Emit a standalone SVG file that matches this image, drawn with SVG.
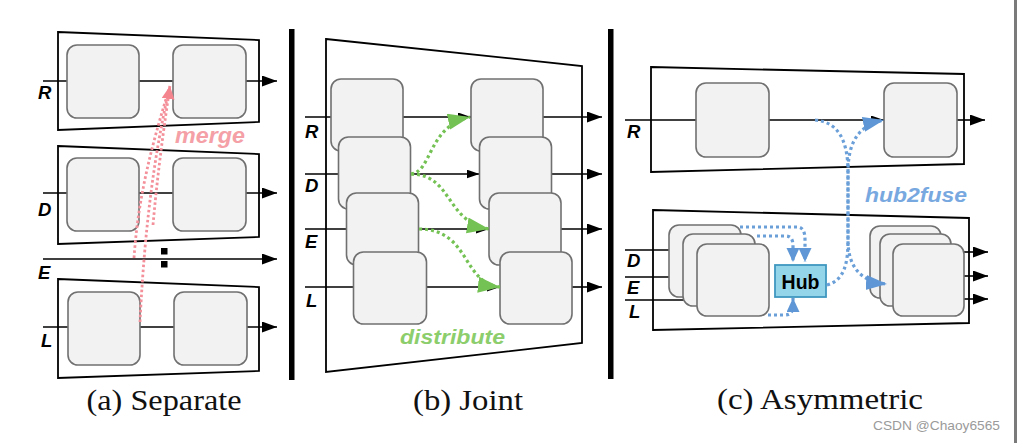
<svg xmlns="http://www.w3.org/2000/svg" width="1017" height="443" viewBox="0 0 1017 443">
<style>
.trap{fill:none;stroke:#000;stroke-width:1.8;stroke-linejoin:miter}
.blk{fill:#f2f2f2;stroke:#707070;stroke-width:1.6}
.ln{fill:none;stroke:#000;stroke-width:1.6}
.lbl{font-family:"Liberation Sans",Arial,sans-serif;font-weight:bold;font-style:italic;font-size:18.5px;fill:#000}
.cap{font-family:"Liberation Serif","Times New Roman",serif;font-size:29.5px;fill:#111}
.pink{fill:none;stroke:#f4909a;stroke-width:2.8;stroke-dasharray:2.6 2.4}
.green{fill:none;stroke:#74c254;stroke-width:3.2;stroke-dasharray:3 3}
.blue{fill:none;stroke:#6a9fd8;stroke-width:3.2;stroke-dasharray:3 3}
.sep{fill:#000}
</style>
<defs>
<marker id="ah" markerUnits="userSpaceOnUse" markerWidth="16" markerHeight="12" refX="15" refY="5.5" orient="auto"><path d="M0,0 L15,5.5 L0,11 z" fill="#000"/></marker>
<marker id="ahs" markerUnits="userSpaceOnUse" markerWidth="14" markerHeight="10" refX="13" refY="4.5" orient="auto"><path d="M0,0 L13,4.5 L0,9 z" fill="#000"/></marker>
<marker id="ahp" markerUnits="userSpaceOnUse" markerWidth="14" markerHeight="14" refX="13" refY="6.5" orient="auto"><path d="M0,0 L13,6.5 L0,13 z" fill="#f4858f"/></marker>
<marker id="ahg" markerUnits="userSpaceOnUse" markerWidth="23" markerHeight="17" refX="22" refY="8" orient="auto"><path d="M0,0 L22,8 L0,16 z" fill="#74c254"/></marker>
<marker id="ahb" markerUnits="userSpaceOnUse" markerWidth="22" markerHeight="16" refX="21" refY="7.5" orient="auto"><path d="M0,0 L21,7.5 L0,15 z" fill="#5f97d6"/></marker>
<marker id="ahbs" markerUnits="userSpaceOnUse" markerWidth="15" markerHeight="14" refX="14" refY="6.5" orient="auto"><path d="M0,0 L14,6.5 L0,13 z" fill="#5f97d6"/></marker>
</defs>
<rect width="1017" height="443" fill="#fff"/>
<rect x="1014" y="0" width="3" height="443" fill="#7a7a7a"/>
<rect class="sep" x="289" y="29" width="5.5" height="351"/>
<rect class="sep" x="608" y="29" width="5.5" height="350"/>

<!-- (a) Separate -->
<g id="connectors-a">
<path class="ln" d="M43 81 H277" marker-end="url(#ah)"/>
<path class="ln" d="M43 193 H277" marker-end="url(#ah)"/>
<path class="ln" d="M43 259 H277" marker-end="url(#ah)"/>
<path class="ln" d="M43 327 H277" marker-end="url(#ah)"/>
</g>
<g id="a-R"><polygon class="trap" points="58,32 259,40 259,122 58,130"/><rect class="blk" x="67" y="45" width="72" height="73" rx="10"/><rect class="blk" x="173" y="45" width="73" height="73" rx="10"/></g>
<g id="a-D"><polygon class="trap" points="58,146 259,154 259,237 58,244"/><rect class="blk" x="67" y="158" width="72" height="73" rx="10"/><rect class="blk" x="173" y="158" width="73" height="73" rx="10"/></g>
<g id="a-L"><polygon class="trap" points="58,279 259,287 259,371 58,378"/><rect class="blk" x="68" y="292" width="72" height="73" rx="10"/><rect class="blk" x="174" y="292" width="73" height="73" rx="10"/></g>
<g id="a-dots"><rect x="161" y="248" width="6.5" height="6.5" fill="#000"/><rect x="161" y="261" width="6.5" height="6.5" fill="#000"/></g>
<g id="merge-connectors">
<path class="pink" d="M140 322 C143 260, 150 170, 170 86"/>
<path class="pink" d="M134 258 C138 200, 150 150, 170 86"/>
<path class="pink" d="M153 225 C157 180, 162 140, 170 86" marker-end="url(#ahp)"/>
</g>
<text x="175" y="143" font-family="Liberation Sans,Arial,sans-serif" font-weight="bold" font-style="italic" font-size="22" fill="#f4a0a6" textLength="70" lengthAdjust="spacingAndGlyphs">merge</text>
<text class="lbl" x="38" y="99">R</text>
<text class="lbl" x="38" y="216">D</text>
<text class="lbl" x="38" y="279">E</text>
<text class="lbl" x="41" y="347">L</text>
<text class="cap" x="164" y="410" text-anchor="middle" textLength="155" lengthAdjust="spacingAndGlyphs">(a) Separate</text>

<!-- (b) Joint -->
<g id="connectors-b">
<path class="ln" d="M305 117 H471" marker-end="url(#ahs)"/>
<path class="ln" d="M305 174 H479.5" marker-end="url(#ahs)"/>
<path class="ln" d="M305 229 H489" marker-end="url(#ahs)"/>
<path class="ln" d="M305 287 H500" marker-end="url(#ahs)"/>
<path class="ln" d="M543 117 H602" marker-end="url(#ah)"/>
<path class="ln" d="M551 174 H602" marker-end="url(#ah)"/>
<path class="ln" d="M561 229 H602" marker-end="url(#ah)"/>
<path class="ln" d="M572 287 H602" marker-end="url(#ah)"/>
</g>
<g id="b-joint"><polygon class="trap" points="326,39 582,66 582,343 326,372"/></g>
<g id="b-left">
<rect class="blk" x="331" y="79" width="72" height="72" rx="10"/>
<rect class="blk" x="338.5" y="137" width="72" height="72" rx="10"/>
<rect class="blk" x="346.5" y="193" width="72" height="72" rx="10"/>
<rect class="blk" x="353.5" y="252" width="73" height="72" rx="10"/>
</g>
<g id="b-right">
<rect class="blk" x="471" y="79" width="72" height="72" rx="10"/>
<rect class="blk" x="479.5" y="137" width="72" height="72" rx="10"/>
<rect class="blk" x="489" y="193" width="72" height="72" rx="10"/>
<rect class="blk" x="500" y="252" width="72" height="72" rx="10"/>
</g>
<g id="distribute-connectors">
<path class="green" d="M411 174 C432 172, 428 126, 470 117" marker-end="url(#ahg)"/>
<path class="green" d="M411 174 C452 174, 446 222, 489 229" marker-end="url(#ahg)"/>
<path class="green" d="M419 229 C470 229, 462 283, 500 287" marker-end="url(#ahg)"/>
</g>
<text x="400" y="344" font-family="Liberation Sans,Arial,sans-serif" font-weight="bold" font-style="italic" font-size="20.5" fill="#8ccd6c" textLength="105" lengthAdjust="spacingAndGlyphs">distribute</text>
<text class="lbl" x="305" y="138">R</text>
<text class="lbl" x="305" y="192">D</text>
<text class="lbl" x="305" y="248">E</text>
<text class="lbl" x="306" y="307">L</text>
<text class="cap" x="468" y="410" text-anchor="middle" textLength="110" lengthAdjust="spacingAndGlyphs">(b) Joint</text>

<!-- (c) Asymmetric -->
<g id="connectors-c">
<path class="ln" d="M625 120 H884" marker-end="url(#ahs)"/>
<path class="ln" d="M957 120 H985" marker-end="url(#ah)"/>
<path class="ln" d="M625 250 H672"/>
<path class="ln" d="M625 277 H686"/>
<path class="ln" d="M625 300 H700"/>
<path class="ln" d="M963 252 H988" marker-end="url(#ah)"/>
<path class="ln" d="M963 276 H988" marker-end="url(#ah)"/>
<path class="ln" d="M963 299 H988" marker-end="url(#ah)"/>
</g>
<g id="c-R"><polygon class="trap" points="651,67 964,74 964,164 651,172"/>
<rect class="blk" x="696" y="83" width="73" height="74" rx="10"/>
<rect class="blk" x="884" y="83" width="73" height="74" rx="10"/></g>
<g id="c-DEL"><polygon class="trap" points="653,210 969,218 969,323 653,330"/>
<rect class="blk" x="669" y="225" width="72" height="72" rx="10"/>
<rect class="blk" x="683" y="234" width="72" height="72" rx="10"/>
<rect class="blk" x="697" y="244" width="72" height="72" rx="10"/>
<rect class="blk" x="870" y="226" width="71" height="72" rx="10"/>
<rect class="blk" x="880" y="234" width="71" height="72" rx="10"/>
<rect class="blk" x="893" y="244" width="71" height="72" rx="10"/></g>
<g id="hub"><rect x="775" y="265" width="51" height="32" fill="#95d5ea" stroke="#3f97bf" stroke-width="1.8"/>
<text x="800.5" y="288.5" text-anchor="middle" font-family="Liberation Sans,Arial,sans-serif" font-weight="bold" font-size="19.5" fill="#000">Hub</text></g>
<g id="hub2fuse-connectors">
<path class="blue" d="M740 227 H797 C803 227, 805 232, 805 240 V262" marker-end="url(#ahbs)"/>
<path class="blue" d="M757 236 H786 C791 236, 793 240, 793 246 V262" marker-end="url(#ahbs)"/>
<path class="blue" d="M768 315 H785 C791 315, 793 311, 793 306 V298" marker-end="url(#ahbs)"/>
<path class="blue" d="M827 285 C845 280, 848 262, 848 240 V172 C848 140, 860 125, 884 120" marker-end="url(#ahb)"/>
<path class="blue" d="M815 120 C838 122, 848 140, 848 172 V240 C848 266, 860 282, 887 284" marker-end="url(#ahb)"/>
</g>
<text x="865" y="202" font-family="Liberation Sans,Arial,sans-serif" font-weight="bold" font-style="italic" font-size="21" fill="#78a8e0" textLength="102" lengthAdjust="spacingAndGlyphs">hub2fuse</text>
<text class="lbl" x="627" y="138">R</text>
<text class="lbl" x="627" y="267">D</text>
<text class="lbl" x="627" y="294">E</text>
<text class="lbl" x="629" y="318">L</text>
<text class="cap" x="820" y="409" text-anchor="middle" textLength="206" lengthAdjust="spacingAndGlyphs">(c) Asymmetric</text>
<text x="873" y="430" font-family="Liberation Sans,Arial,sans-serif" font-size="13.5" fill="#9a9a9a" textLength="127" lengthAdjust="spacingAndGlyphs">CSDN @Chaoy6565</text>
</svg>
